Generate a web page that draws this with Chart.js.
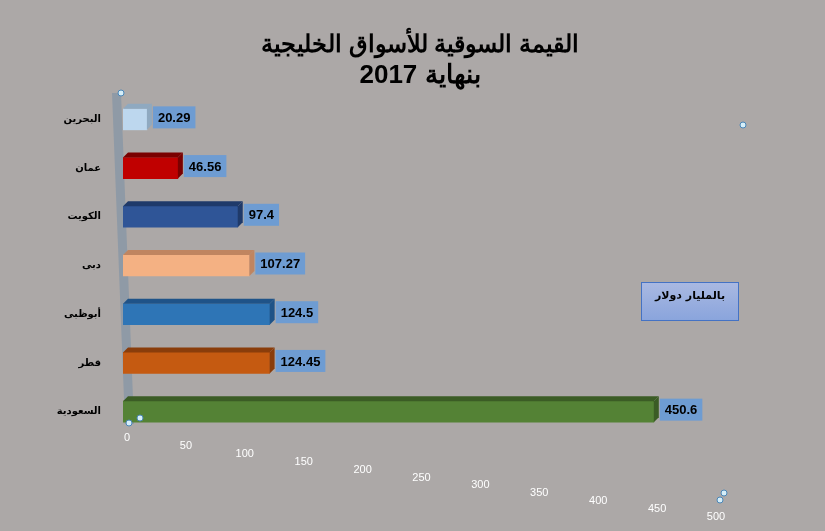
<!DOCTYPE html>
<html><head><meta charset="utf-8">
<script src="https://cdn.jsdelivr.net/npm/chart.js@4/dist/chart.umd.min.js"></script>
<style>html,body{margin:0;padding:0;background:#aca8a7;}#wrap{width:825px;height:531px;}</style>
</head><body><div id="wrap"><canvas id="c" width="825" height="531"></canvas></div>
<script>
const categories = ['البحرين','عمان','الكويت','دبى','أبوظبى','قطر','السعودية'];
const values = [20.29, 46.56, 97.4, 107.27, 124.5, 124.45, 450.6];
const barColors = ['#bdd7ee','#c00000','#2f5597','#f4b183','#2e75b6','#c55a11','#548235'];
const sideColors = ['#8fa9c0','#7a0000','#1f3a6a','#c08560','#1f5388','#8a3d0b','#3b5c25'];
const xTicks = [0,50,100,150,200,250,300,350,400,450,500];
const titleLines = ['القيمة السوقية للأسواق الخليجية','بنهاية 2017'];
const unitNote = 'بالمليار دولار';

const deco = {
  id:'deco',
  beforeDraw(chart){
    const ctx=chart.ctx; ctx.save(); ctx.fillStyle='#aca8a7'; ctx.fillRect(0,0,chart.width,chart.height);
    ctx.fillStyle='#000'; ctx.textAlign='center'; ctx.textBaseline='middle';
    ctx.font='bold 24px "Liberation Sans", Arial, sans-serif';
    ctx.fillText(titleLines[0],420,45);
    ctx.font='bold 26px "Liberation Sans", Arial, sans-serif';
    ctx.fillText(titleLines[1],420,76);
    ctx.restore();
  },
  beforeDatasetsDraw(chart){
    const ctx=chart.ctx, a=chart.chartArea;
    ctx.save();
    ctx.fillStyle='#8f9aa6';
    ctx.beginPath();
    ctx.moveTo(a.left-11,a.top-2); ctx.lineTo(a.left-2,a.top-2);
    ctx.lineTo(a.left+11,a.bottom-12); ctx.lineTo(a.left+2,a.bottom-12);
    ctx.closePath(); ctx.fill();
    ctx.restore();
  },
  afterDatasetsDraw(chart){
    const ctx=chart.ctx, meta=chart.getDatasetMeta(0), a=chart.chartArea;
    const xs=chart.scales.x;
    ctx.save();
    const d=5;
    meta.data.forEach((bar,i)=>{
      const x0=bar.base, x1=bar.x, yT=bar.y-bar.height/2, yB=bar.y+bar.height/2;
      ctx.fillStyle=sideColors[i];
      ctx.beginPath();
      ctx.moveTo(x0,yT); ctx.lineTo(x0+d,yT-d); ctx.lineTo(x1+d,yT-d); ctx.lineTo(x1,yT); ctx.closePath(); ctx.fill();
      ctx.beginPath();
      ctx.moveTo(x1,yT); ctx.lineTo(x1+d,yT-d); ctx.lineTo(x1+d,yB-d); ctx.lineTo(x1,yB); ctx.closePath(); ctx.fill();
      const txt=String(values[i]);
      ctx.font='bold 13px "Liberation Sans", Arial, sans-serif';
      const w=ctx.measureText(txt).width+10, h=22;
      const bx=x1+d+1, by=bar.y-h/2-2;
      ctx.fillStyle='#6e9cd2'; ctx.fillRect(bx,by,w,h);
      ctx.fillStyle='#000'; ctx.textAlign='left'; ctx.textBaseline='middle';
      ctx.fillText(txt,bx+5,by+h/2+1);
    });
    ctx.font='11px "Liberation Sans", Arial, sans-serif';
    ctx.fillStyle='#ffffff'; ctx.textAlign='center'; ctx.textBaseline='middle';
    xTicks.forEach(v=>{
      const px=xs.getPixelForValue(v)+4;
      const py=a.bottom+2+v/500*79;
      ctx.fillText(String(v),px,py);
    });
    const g=ctx.createLinearGradient(0,282,0,321);
    g.addColorStop(0,'#aab9e2'); g.addColorStop(1,'#89a4dc');
    ctx.fillStyle=g; ctx.fillRect(641,282,98,39);
    ctx.strokeStyle='#4472c4'; ctx.lineWidth=1; ctx.strokeRect(641.5,282.5,97,38);
    ctx.fillStyle='#000'; ctx.font='bold 11px "DejaVu Sans", Arial, sans-serif';
    ctx.textAlign='center'; ctx.textBaseline='middle';
    ctx.fillText(unitNote,690,296);
    [[121,93],[743,125],[129,423],[140,418],[720,500],[724,493]].forEach(p=>{
      ctx.beginPath(); ctx.arc(p[0],p[1],3,0,Math.PI*2);
      ctx.fillStyle='#d6eef8'; ctx.fill(); ctx.strokeStyle='#4a86b8'; ctx.lineWidth=1; ctx.stroke();
    });
    ctx.restore();
  }
};

new Chart(document.getElementById('c'),{
  type:'bar',
  data:{labels:categories,datasets:[{data:values,backgroundColor:barColors,barThickness:21}]},
  plugins:[deco],
  options:{
    indexAxis:'y',responsive:false,animation:false,
    layout:{padding:{left:0,right:113,bottom:95,top:95}},
    plugins:{legend:{display:false},tooltip:{enabled:false},title:{display:false}},
    scales:{
      x:{min:0,max:500,grid:{display:false},border:{display:false},ticks:{display:false},afterFit:s=>{s.height=0;}},
      y:{grid:{display:false},border:{display:false},
        ticks:{color:'#000',padding:14,font:{size:10,weight:'bold',family:'"DejaVu Sans", Arial, sans-serif'}},
        afterFit:s=>{s.width=123;}}
    }
  }
});
</script></body></html>
